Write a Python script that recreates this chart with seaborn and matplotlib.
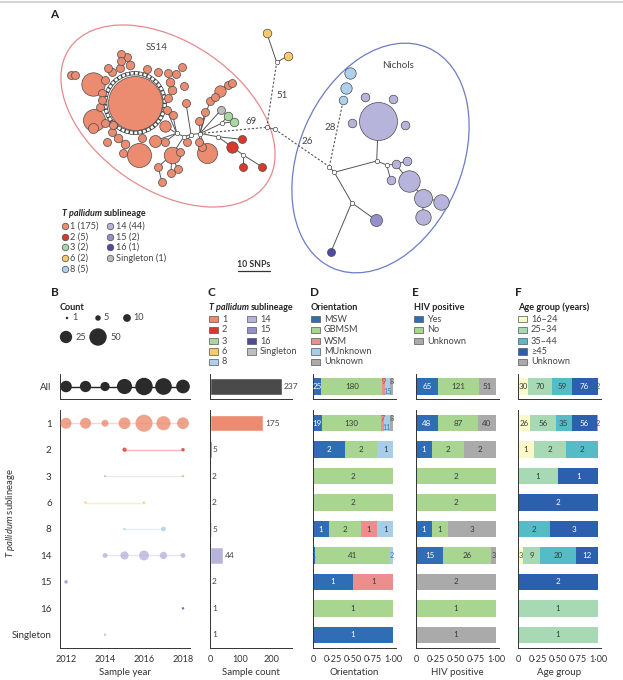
import numpy as np
import pandas as pd
import matplotlib
matplotlib.use("Agg")
import matplotlib.pyplot as plt
from matplotlib.patches import Ellipse, Circle, Rectangle
import seaborn as sns

sns.set_theme(style="white")
plt.rcParams['font.family'] = ['Lato', 'DejaVu Sans']
plt.rcParams['mathtext.fontset'] = 'custom'
plt.rcParams['mathtext.rm'] = 'Lato'
plt.rcParams['mathtext.it'] = 'Lato:italic'
plt.rcParams['mathtext.bf'] = 'Lato:bold'

# ---------------- data ----------------
lineages = ["1", "2", "3", "6", "8", "14", "15", "16", "Singleton"]
sample_counts = [175, 5, 2, 2, 5, 44, 2, 1, 1]

# panel B: samples per year per sublineage
year_lineage = ["1"] * 7 + ["2"] * 2 + ["3"] * 2 + ["6"] * 2 + ["8"] * 2 + ["14"] * 5 + ["15", "16", "Singleton"]
year_value = [2012, 2013, 2014, 2015, 2016, 2017, 2018,
              2015, 2018, 2014, 2018, 2013, 2016, 2015, 2017,
              2014, 2015, 2016, 2017, 2018, 2012, 2018, 2014]
year_count = [20, 20, 8, 23, 48, 33, 23,
              3, 2, 1, 1, 1, 1, 1, 4,
              4, 11, 16, 9, 4, 2, 1, 1]

# panel D: orientation
orient_cats = ["MSW", "GBMSM", "WSM", "MUnknown", "Unknown"]
orient_msw = [19, 2, 0, 0, 1, 1, 1, 0, 1]
orient_gbmsm = [130, 2, 2, 2, 2, 41, 0, 1, 0]
orient_wsm = [7, 0, 0, 0, 1, 0, 1, 0, 0]
orient_munknown = [11, 1, 0, 0, 1, 2, 0, 0, 0]
orient_unknown = [8, 0, 0, 0, 0, 0, 0, 0, 0]

# panel E: HIV positive
hiv_cats = ["Yes", "No", "Unknown"]
hiv_yes = [48, 1, 0, 0, 1, 15, 0, 0, 0]
hiv_no = [87, 2, 2, 2, 1, 26, 0, 1, 0]
hiv_unknown = [40, 2, 0, 0, 3, 3, 2, 0, 1]

# panel F: age group
age_cats = ["16\u201324", "25\u201334", "35\u201344", "\u226545", "Unknown"]
age_16_24 = [26, 1, 0, 0, 0, 3, 0, 0, 0]
age_25_34 = [56, 2, 1, 0, 0, 9, 0, 1, 1]
age_35_44 = [35, 2, 0, 0, 2, 20, 0, 0, 0]
age_45 = [56, 0, 1, 2, 3, 12, 2, 0, 0]
age_unknown = [2, 0, 0, 0, 0, 0, 0, 0, 0]

count_legend = [1, 5, 10, 25, 50]

# panel A: network nodes (pixel layout)
net_id = ["o1", "o2", "o3", "o4", "o5", "o6", "o7", "o8", "o9", "o10", "o11", "o12", "o13", "o14", "o15",
          "o16", "o17", "o18", "o19", "o20", "o21", "o22", "o23", "o24", "o25", "o26", "o27", "o28", "o29",
          "o30", "o31", "o32", "o33", "o34", "o35", "o36", "o37", "o38", "o39", "o40", "o41", "o42", "o43",
          "o44", "o45", "o46", "o47", "o48", "o49", "o50", "o51", "o52", "o53", "o54", "o55", "o56", "o57", "o58",
          "r1", "r2", "r3", "r4", "g1", "g2", "s1", "y1", "y2", "b1", "b2", "b3",
          "p0", "p1", "p2", "p3", "p4", "p5", "p6", "p7", "p8", "p9", "p10", "p11", "q1", "d1",
          "W1", "W2", "W3", "W4", "R0", "R1", "G0", "J1", "J2", "Y0", "N0", "N1", "N2", "N3", "N4"]
net_x = [135, 93.3, 94, 139.3, 171.7, 206.7, 155, 165, 220, 75, 120.7, 120.7, 130, 146.7, 158.3,
         168.3, 176, 181.7, 170, 171.7, 168.3, 184, 186, 172.7, 158.3, 171, 177.7, 161.7, 180,
         186.7, 199.3, 201.7, 199.3, 205, 210, 215, 228.3, 231.7, 106.7, 118.3, 125, 123.3, 111.7,
         105, 100, 101.7, 101.7, 105, 111.7, 108.3, 120, 93.3, 141.7, 165, 166.7, 126.7, 71, 112.7,
         241.7, 231.7, 243.3, 261.7, 227.7, 234, 221, 266.7, 287.7, 343.3, 346, 350,
         378.3, 365, 393.3, 351.7, 405, 395.7, 406.7, 390.7, 409, 423.3, 441, 422.7, 375.7, 331,
         176.7, 184, 191, 200, 217.7, 243.3, 221.7, 266.7, 275, 276.7, 329.3, 334.3, 376.7, 386.7, 351.7]
net_y = [103, 83.5, 120, 155, 155, 153.3, 140.7, 126, 90.7, 75, 54, 61, 65, 69, 72.3,
         72.7, 74, 66.7, 81.7, 90, 98.3, 86, 103.3, 115, 166.7, 173.3, 169.3, 181.7, 151.7,
         141.7, 141.7, 146.7, 120.7, 111.7, 100.7, 97.3, 85, 83.3, 141.7, 138.3, 144, 152.7, 131.7,
         122.7, 106.7, 100, 93.3, 80, 71.7, 68.3, 68.3, 128, 138.3, 141.7, 110, 56.7, 75, 125,
         139.3, 146.7, 166.7, 166.7, 116, 121.7, 110, 32.7, 56, 100, 87.7, 73.3,
         121, 97.3, 99, 122.7, 125, 164.3, 161, 180, 180.7, 197.7, 201.7, 216.7, 220, 251.7,
         133.3, 136.5, 134.5, 133.5, 136.7, 155, 123.3, 127.3, 129.3, 62.3, 166.7, 172.3, 161, 165, 202.7]
net_r = [27, 11.7, 11, 12, 8.3, 10, 6, 5.7, 5.7, 4, 4, 4, 4.3, 4, 4,
         4, 4, 4, 4.3, 4.3, 4, 4, 4, 4, 4, 4, 4, 4, 4,
         4, 4, 4, 4, 4, 4, 4, 4, 4, 4, 4.3, 4.3, 4, 4,
         4, 4, 4, 4, 4, 4, 4, 4, 5, 4, 4, 4, 4, 4, 4,
         4, 5.7, 4, 4, 4.3, 4.3, 4, 4.3, 4.3, 4.3, 5.7, 5.7,
         19, 4.3, 4.3, 4.3, 4.3, 4.3, 4.3, 4.3, 10.7, 9, 7.7, 7.7, 6, 4,
         2.2, 2.2, 2.2, 2.2, 2.2, 2.2, 2.2, 2.2, 2.2, 2.2, 2.2, 2.2, 2.2, 2.2, 2.2]
net_lin = ["1"] * 58 + ["2"] * 4 + ["3"] * 2 + ["Singleton"] + ["6"] * 2 + ["8"] * 3 + \
          ["14"] * 12 + ["15", "16"] + ["hub"] * 15
edges_solid = [("W1", "o8"), ("W1", "o24"), ("W1", "o55"), ("W1", "o7"), ("W1", "o54"), ("W1", "W2"),
               ("W2", "o5"), ("o5", "o25"), ("o5", "o26"), ("o5", "o27"), ("o25", "o28"), ("W2", "W3"),
               ("W3", "o23"), ("W3", "o30"), ("W3", "W4"), ("W4", "o33"), ("W4", "o34"), ("W4", "o35"),
               ("o35", "o36"), ("o36", "o9"), ("o9", "o37"), ("o9", "o38"), ("W4", "o6"), ("W4", "o31"),
               ("W4", "R0"), ("R0", "r1"), ("R0", "r2"), ("r2", "R1"), ("R1", "r3"), ("R1", "r4"),
               ("W4", "G0"), ("G0", "g1"), ("G0", "g2"), ("W4", "s1"), ("J1", "J2"), ("Y0", "y1"),
               ("Y0", "y2"), ("N0", "N1"), ("N1", "N2"), ("N2", "p0"), ("N2", "N3"), ("N3", "p5"),
               ("p5", "p6"), ("N3", "p7"), ("p5", "p8"), ("p8", "p9"), ("p9", "p10"), ("p9", "p11"),
               ("N1", "N4"), ("N4", "q1"), ("N4", "d1")]
edges_dashed = [("W4", "J1"), ("J1", "Y0"), ("J2", "N0"), ("N0", "b1")]
edge_labels = ["69", "51", "26", "28"]
edge_label_x = [251, 282, 307, 330]
edge_label_y = [122, 95, 142, 127]

# ---------------- styling ----------------
LIN_COL = {"1": "#EB8B6F", "2": "#D8392B", "3": "#A9D6A2", "6": "#F5C96C", "8": "#AED0EC",
           "14": "#B7B4DC", "15": "#9590CB", "16": "#5048A3", "Singleton": "#BDBDBD", "hub": "white"}
ORIENT_COL = ["#2F6DB5", "#A8D58F", "#EC8E8E", "#A8CDE6", "#AAAAAA"]
ORIENT_TXT = ["#2F6DB5", "#4E7A37", "#C8403F", "#3E7FB8", "#555555"]
HIV_COL = ["#2F6DB5", "#A8D58F", "#AAAAAA"]
HIV_TXT = ["#2F6DB5", "#4E7A37", "#444444"]
AGE_COL = ["#FBF8C9", "#A6D9B4", "#55BCC7", "#2C5FAE", "#AAAAAA"]
AGE_TXT = ["#555533", "#3D6B4A", "#2A6F78", "#2C5FAE", "#555555"]
TXT = "#333333"

W, H = 623, 680
fig = plt.figure(figsize=(W / 100, H / 100), dpi=100)
fig.patch.set_facecolor("white")


def px_axes(x0, y0, x1, y1):
    return fig.add_axes([x0 / W, 1 - y1 / H, (x1 - x0) / W, (y1 - y0) / H])


# overlay for texts / legends (1 data unit = 1 px)
ov = px_axes(0, 0, W, H)
ov.set_xlim(0, W)
ov.set_ylim(H, 0)
ov.axis("off")
ov.patch.set_alpha(0)
renderer = fig.canvas.get_renderer()


def rich(x, y, parts, fs=6.6):
    cur = x
    for txt, style, weight in parts:
        t = ov.text(cur, y, txt, fontsize=fs, style=style, weight=weight, va="center", ha="left", color="#222")
        cur += t.get_window_extent(renderer=renderer).width + 2.2


# ---------------- panel A ----------------
axA = px_axes(0, 0, W, 285)
axA.set_xlim(0, W)
axA.set_ylim(285, 0)
axA.axis("off")
axA.patch.set_alpha(0)
axA.plot([0, W], [2, 2], color="#cccccc", lw=1.2)

pos = {n: (x, y) for n, x, y in zip(net_id, net_x, net_y)}
axA.add_patch(Ellipse((168, 116), 239, 148, angle=34.4, fill=False, ec="#E58A8C", lw=0.9))
axA.add_patch(Ellipse((380.5, 158), 163, 240, angle=23.3, fill=False, ec="#6C7CC6", lw=0.9))
for a, b in edges_solid:
    axA.plot([pos[a][0], pos[b][0]], [pos[a][1], pos[b][1]], color="#555", lw=0.7, zorder=2)
for a, b in edges_dashed:
    axA.plot([pos[a][0], pos[b][0]], [pos[a][1], pos[b][1]], color="#555", lw=0.8,
             ls=(0, (2, 1.6)), zorder=2)
# beaded ring of intermediate nodes around the main node
axA.add_patch(Circle(pos["o1"], 29.8, fill=False, ec="#444", lw=3.0, zorder=3))
axA.add_patch(Circle(pos["o1"], 29.8, fill=False, ec="white", lw=1.9, ls=(0, (1.1, 0.55)), zorder=3))
order = np.argsort(net_r)[::-1]
for i in order:
    s = (2 * net_r[i] * 0.72) ** 2
    axA.scatter(net_x[i], net_y[i], s=s, color=LIN_COL[net_lin[i]], edgecolor="#4a4a4a",
                linewidth=0.5, zorder=4)
for t, x, y in zip(edge_labels, edge_label_x, edge_label_y):
    axA.text(x, y, t, fontsize=7, color="#444", ha="center", va="center")
axA.text(157, 48, "SS14", fontsize=7, color="#444", ha="center", va="center")
axA.text(398, 66, "Nichols", fontsize=7, color="#444", ha="center", va="center")
axA.text(254, 264, "10 SNPs", fontsize=6.3, color="#333", weight="bold", ha="center", va="center")
axA.plot([238, 270], [271, 271], color="#333", lw=0.9)
ov.text(50, 15, "A", fontsize=8.5, weight="bold", color="#222", va="center")

rich(62, 214, [("T pallidum", "italic", "bold"), ("sublineage", "normal", "bold")], fs=6.5)
legA_x = [65] * 5 + [110] * 4
legA_y = [226, 236.7, 247.3, 258.3, 269.3, 226, 236.7, 247.3, 258.3]
for lin, n, x, y in zip(lineages, sample_counts, legA_x, legA_y):
    ov.scatter(x, y, s=22, color=LIN_COL[lin], edgecolor="#4a4a4a", linewidth=0.5)
    ov.text(x + 5.5, y, f"{lin} ({n})", fontsize=6.6, color="#444", va="center")

# ---------------- bottom axes ----------------
ALL_Y0, ALL_Y1 = 374, 399
MAIN_Y0, MAIN_Y1 = 410, 648
cols_x = {"B": (60, 190), "C": (210, 292), "D": (313, 396), "E": (416, 499), "F": (518, 601)}
nrow = len(lineages)
row_labels = lineages


def base_style(ax):
    sns.despine(ax=ax)
    for s in ["left", "bottom"]:
        ax.spines[s].set_color("#333")
        ax.spines[s].set_linewidth(0.7)
    ax.tick_params(axis="both", which="both", colors="#333", labelsize=6.6, width=0.6, pad=2)
    ax.tick_params(axis="x", length=3)
    ax.patch.set_alpha(0)


def rows_style(ax, n, labels=None):
    ax.set_ylim(n - 0.5, -0.5)
    ax.set_yticks(range(n))
    if labels is None:
        ax.set_yticklabels([""] * n)
    else:
        ax.set_yticklabels(labels)
    ax.tick_params(axis="y", which="major", length=0, pad=6, labelsize=7)
    ax.set_yticks(np.arange(n + 1) - 0.5, minor=True)
    ax.tick_params(axis="y", which="minor", length=3, width=0.6)
    ax.grid(False)


def all_style(ax, label=None):
    ax.set_ylim(0.47, -0.47)
    ax.set_yticks([0])
    ax.set_yticklabels([label] if label else [""])
    ax.tick_params(axis="y", which="major", length=0, pad=6, labelsize=7)
    ax.set_yticks([-0.47, 0.47], minor=True)
    ax.tick_params(axis="y", which="minor", length=3, width=0.6)
    ax.tick_params(axis="x", labelbottom=False)
    ax.grid(False)


axes_all, axes_main = {}, {}
for k, (x0, x1) in cols_x.items():
    axes_all[k] = px_axes(x0, ALL_Y0, x1, ALL_Y1)
    axes_main[k] = px_axes(x0, MAIN_Y0, x1, MAIN_Y1)
    base_style(axes_all[k])
    base_style(axes_main[k])

# ---- panel B ----
lin_pos = {l: i for i, l in enumerate(lineages)}
dfB = pd.DataFrame({"lineage": year_lineage, "year": year_value, "count": year_count})
dfB["pos"] = dfB["lineage"].map(lin_pos)
dfAll = dfB.groupby("year", as_index=False)["count"].sum()
dfAll["pos"] = 0

axb = axes_main["B"]
sns.lineplot(data=dfB, x="year", y="pos", hue="lineage", palette=LIN_COL, estimator=None,
             legend=False, lw=1.0, alpha=0.35, ax=axb, sort=True)
sns.scatterplot(data=dfB, x="year", y="pos", hue="lineage", palette=LIN_COL, size="count",
                sizes=(3.14, 157), size_norm=(1, 50), legend=False, alpha=0.8, edgecolor="none",
                ax=axb, zorder=3, clip_on=False)
axb.set_xlim(2011.69, 2018.36)
axb.set_xticks([2012, 2014, 2016, 2018])
rows_style(axb, nrow, row_labels)
axb.set_xlabel("Sample year", fontsize=7, color="#333", labelpad=3)
axb.set_ylabel("")

axba = axes_all["B"]
sns.lineplot(data=dfAll, x="year", y="pos", color="#222", lw=1.0, ax=axba, estimator=None)
sns.scatterplot(data=dfAll, x="year", y="pos", size="count", sizes=(3.14, 157), size_norm=(1, 50),
                color="#2b2b2b", edgecolor="none", legend=False, ax=axba, zorder=3, clip_on=False)
axba.set_xlim(2011.69, 2018.36)
axba.set_xticks([2012, 2014, 2016, 2018])
all_style(axba, "All")
axba.set_xlabel("")
axba.set_ylabel("")

ov.text(51, 292, "B", fontsize=8.5, weight="bold", color="#222", va="center")
ov.text(60, 307, "Count", fontsize=6.6, weight="bold", color="#222", va="center")
leg_cx = [67, 98, 127, 66, 98]
leg_cy = [318, 318, 318, 337, 337]
leg_tx = [72, 103.5, 133, 75.5, 110]
for n, x, y, tx in zip(count_legend, leg_cx, leg_cy, leg_tx):
    ov.scatter(x, y, s=3.14 * n, color="#2b2b2b", edgecolor="none")
    ov.text(tx, y, str(n), fontsize=6.6, color="#444", va="center")
ov.text(11, 513, r"$\mathit{T\ pallidum}$ sublineage", fontsize=6.8, color="#333",
        rotation=90, ha="center", va="center")

# ---- panel C ----
axc = axes_main["C"]
dfC = pd.DataFrame({"lineage": lineages, "count": sample_counts})
sns.barplot(data=dfC, x="count", y="lineage", hue="lineage", palette=LIN_COL, order=lineages,
            legend=False, width=0.62, ax=axc, orient="h", saturation=1)
for i, n in enumerate(sample_counts):
    axc.text(n + 5, i, str(n), fontsize=6, color="#444", va="center")
axc.set_xlim(0, 269)
axc.set_xticks([0, 100, 200])
rows_style(axc, nrow)
axc.set_xlabel("Sample count", fontsize=7, color="#333", labelpad=3)
axc.set_ylabel("")

axca = axes_all["C"]
sns.barplot(x=[sum(sample_counts)], y=[0], orient="h", color="#4a4a4a", width=0.62, ax=axca,
            saturation=1, native_scale=True)
axca.text(sum(sample_counts) + 5, 0, str(sum(sample_counts)), fontsize=6, color="#444", va="center")
axca.set_xlim(0, 269)
axca.set_xticks([0, 100, 200])
all_style(axca)
axca.set_xlabel("")
axca.set_ylabel("")

ov.text(207, 292, "C", fontsize=8.5, weight="bold", color="#222", va="center")
rich(209, 307, [("T pallidum", "italic", "bold"), ("sublineage", "normal", "bold")], fs=6.5)
legC_x = [209] * 5 + [247] * 4
legC_y = [319, 330, 341, 351.5, 362, 319, 330, 341, 351.5]
for lin, x, y in zip(lineages, legC_x, legC_y):
    ov.add_patch(Rectangle((x, y - 3.2), 9, 6.4, facecolor=LIN_COL[lin], edgecolor="#555", lw=0.5))
    ov.text(x + 13, y, lin, fontsize=6.6, color="#444", va="center")


# ---- stacked panels D, E, F ----
def stacked(ax, mat, colors, txtcols, light, ys):
    for r, y in enumerate(ys):
        vals = [m[r] for m in mat]
        tot = sum(vals)
        left = 0
        segs = []
        for j, v in enumerate(vals):
            if v == 0:
                continue
            f = v / tot
            ax.barh(y, f, left=left, height=0.62, color=colors[j], lw=0)
            segs.append((j, v, left, f))
            left += f
        small = [s[3] < 0.09 for s in segs]
        run = 0
        for idx, (j, v, l, f) in enumerate(segs):
            cx = l + f / 2
            if not small[idx]:
                ax.text(cx, y, str(v), ha="center", va="center", fontsize=5.8,
                        color="white" if light[j] else "#3a3a3a")
                run = 0
                continue
            prev_s = idx > 0 and small[idx - 1]
            next_s = idx < len(segs) - 1 and small[idx + 1]
            run = run + 1 if prev_s else 0
            dy = 0
            if prev_s or next_s:
                dy = -0.17 if run % 2 == 0 else 0.17
            ax.text(cx, y + dy, str(v), ha="center", va="center", fontsize=5.3, color=txtcols[j])


pct_ticks = [0, 0.25, 0.5, 0.75, 1.0]
pct_labels = ["0", "0\u00b725", "0\u00b750", "0\u00b775", "1\u00b700"]
panels = [
    ("D", [orient_msw, orient_gbmsm, orient_wsm, orient_munknown, orient_unknown], ORIENT_COL, ORIENT_TXT,
     [True, False, False, False, False], "Orientation", orient_cats, 310, 311),
    ("E", [hiv_yes, hiv_no, hiv_unknown], HIV_COL, HIV_TXT, [True, False, False], "HIV positive",
     hiv_cats, 412, 414),
    ("F", [age_16_24, age_25_34, age_35_44, age_45, age_unknown], AGE_COL, AGE_TXT,
     [False, False, False, True, False], "Age group (years)", age_cats, 515, 518),
]
leg_rows = [319, 330, 341, 351.5, 362]
for key, mat, colors, tcols, light, title, cats, lx, tx in panels:
    ax = axes_main[key]
    stacked(ax, mat, colors, tcols, light, range(nrow))
    ax.set_xlim(0, 1.035)
    ax.set_xticks(pct_ticks)
    ax.set_xticklabels(pct_labels)
    rows_style(ax, nrow)
    ax.set_xlabel(title if key != "F" else "Age group", fontsize=7, color="#333", labelpad=3)
    if key == "E":
        ax.set_xlabel("HIV positive", fontsize=7, color="#333", labelpad=3)
    axa = axes_all[key]
    stacked(axa, [[sum(m)] for m in mat], colors, tcols, light, [0])
    axa.set_xlim(0, 1.035)
    axa.set_xticks(pct_ticks)
    all_style(axa)
    ov.text(lx, 292, key, fontsize=8.5, weight="bold", color="#222", va="center")
    ov.text(tx, 307, title, fontsize=6.6, weight="bold", color="#222", va="center")
    for c, lab, y in zip(colors, cats, leg_rows):
        ov.add_patch(Rectangle((tx, y - 3.2), 9, 6.4, facecolor=c, edgecolor="#555", lw=0.5))
        ov.text(tx + 13, y, lab, fontsize=6.6, color="#444", va="center")

fig.savefig("out.png", dpi=100, facecolor="white")
